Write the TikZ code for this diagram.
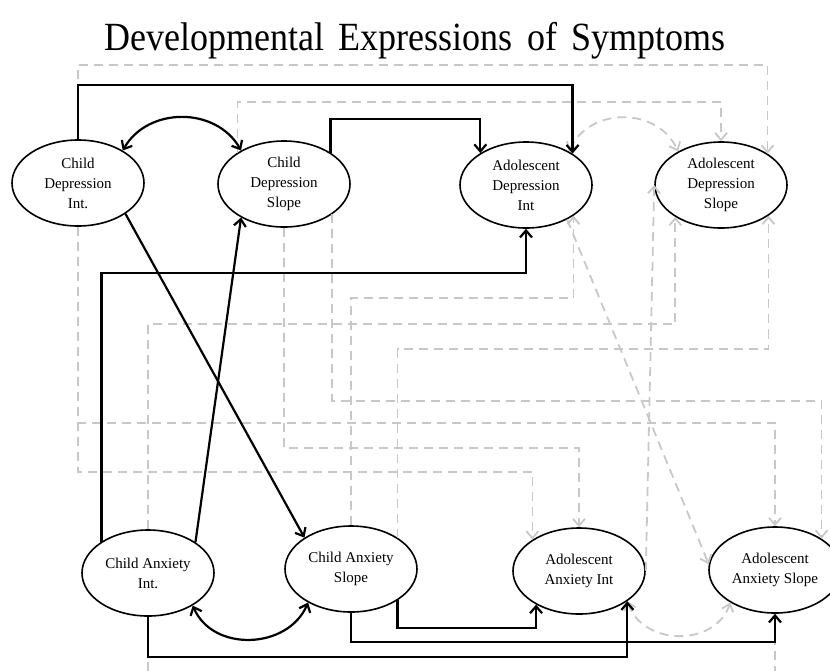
\documentclass[tikz,border=0pt]{standalone}
\usepackage{fontspec}
\setmainfont{Liberation Serif}
\newfontfamily\titlefont[FakeStretch=0.9, WordSpace=1.6]{Liberation Serif}
\usetikzlibrary{shapes.geometric, arrows.meta}
\definecolor{cGray}{RGB}{200,200,200}
\tikzset{
  latent/.style={
    ellipse, draw, line width=1.6pt, minimum width=132pt, minimum height=86pt,
    inner sep=0pt, align=center, font=\fontsize{15}{20}\selectfont
  },
  title/.style={font=\titlefont\fontsize{40}{46}\selectfont, anchor=base, inner sep=0pt},
  sig/.style={-{Straight Barb[length=7pt,width=12pt]}, line width=2.2pt},
  cov/.style={{Straight Barb[length=7pt,width=12pt]}-{Straight Barb[length=7pt,width=12pt]}, line width=2.2pt},
  ns/.style={-{Straight Barb[length=7pt,width=12pt]}, line width=1.8pt, cGray, dash pattern=on 9pt off 6pt},
  nscov/.style={ns, {Straight Barb[length=7pt,width=12pt]}-{Straight Barb[length=7pt,width=12pt]}},
}

\begin{document}
\begin{tikzpicture}[x=1pt, y=-1pt]
  \useasboundingbox (0,0) rectangle (830,670);

  \node[title] (ttl) at (415,50) {Developmental Expressions of Symptoms};

  % Row 1: depression factors
  \node[latent] (cdi) at (78,183)  {Child\\Depression\\Int.};
  \node[latent] (cds) at (284,184) {Child\\Depression\\Slope};
  \node[latent] (adi) at (526,185) {Adolescent\\Depression\\Int};
  \node[latent] (ads) at (721,185) {Adolescent\\Depression\\Slope};

  % Row 2: anxiety factors
  \node[latent] (cai) at (148,573) {Child Anxiety\\Int.};
  \node[latent] (cas) at (351,569) {Child Anxiety\\Slope};
  \node[latent] (aai) at (579,571) {Adolescent\\Anxiety Int};
  \node[latent] (aas) at (775,570) {Adolescent\\Anxiety Slope};

  % Non-significant paths (grey, dashed)
  \draw[ns] (cdi.north) |- (ads.34 |- 0,65) -- (ads.34);
  \draw[ns] (cds.146) |- (ads.north |- 0,102) -- (ads.north);
  \draw[ns] (cai.north) |- (ads.215 |- 0,324) -- (ads.215);
  \draw[ns] (cas.34) |- (ads.327 |- 0,349) -- (ads.327);
  \draw[ns] (cas.north) |- (adi.327 |- 0,298) -- (adi.327);
  \draw[ns] (cdi.south) |- (aas.north |- 0,423) -- (aas.north);
  \draw[ns] (cds.-32) |- (aas.34 |- 0,401) -- (aas.34);
  \draw[ns] (cdi.south) |- (aai.146 |- 0,472) -- (aai.146);
  \draw[ns] (cds.south) |- (aai.north |- 0,448) -- (aai.north);
  \draw[ns] (cai.south) |- (aas.south |- 0,700) -- (aas.south);
  \draw[ns] (aai.east) -- (ads.west);
  \draw[ns] (adi.320) -- (aas.175);
  \draw[nscov] (adi.38) .. controls +(20,-45) and +(-20,-45) .. (ads.142);
  \draw[nscov] (aai.-32) .. controls +(15,45) and +(-15,45) .. (aas.216);

  % Significant paths (black)
  \draw[sig] (cdi.north) |- (adi.34 |- 0,85) -- (adi.34);
  \draw[sig] (cds.34) |- (adi.145 |- 0,119) -- (adi.145);
  \draw[sig] (cai.146) |- (adi.south |- 0,273) -- (adi.south);
  \draw[sig] (cdi.-33) -- (cas.146);
  \draw[sig] (cai.33) -- (cds.218);
  \draw[sig] (cas.-34) |- (aai.218 |- 0,628) -- (aai.218);
  \draw[sig] (cas.south) |- (aas.south |- 0,642) -- (aas.south);
  \draw[sig] (cai.south) |- (aai.-32 |- 0,657) -- (aai.-32);
  \draw[cov] (cdi.36) .. controls +(25,-44) and +(-25,-44) .. (cds.142);
  \draw[cov] (cai.-36) .. controls +(20,47) and +(-20,47) .. (cas.218);

\end{tikzpicture}
\end{document}
